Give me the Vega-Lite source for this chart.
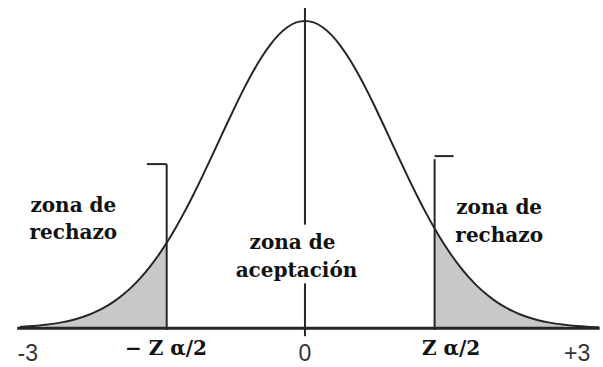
{
  "$schema": "https://vega.github.io/schema/vega-lite/v6.json",
  "width": 603,
  "height": 367,
  "padding": 0,
  "autosize": {"type": "fit", "contains": "padding"},
  "background": "white",
  "view": {"stroke": null},
  "datasets": {
    "curve": [
      {"z": -3.3, "d": 0.0043}, {"z": -3.2, "d": 0.0060}, {"z": -3.1, "d": 0.0082},
      {"z": -3.0, "d": 0.0111}, {"z": -2.9, "d": 0.0149}, {"z": -2.8, "d": 0.0198}, {"z": -2.7, "d": 0.0261},
      {"z": -2.6, "d": 0.0340}, {"z": -2.5, "d": 0.0439}, {"z": -2.4, "d": 0.0561}, {"z": -2.3, "d": 0.0710},
      {"z": -2.2, "d": 0.0889}, {"z": -2.1, "d": 0.1103}, {"z": -2.0, "d": 0.1353}, {"z": -1.9, "d": 0.1645},
      {"z": -1.8, "d": 0.1979}, {"z": -1.7, "d": 0.2357}, {"z": -1.6, "d": 0.2780}, {"z": -1.5, "d": 0.3247},
      {"z": -1.4, "d": 0.3753}, {"z": -1.3, "d": 0.4296}, {"z": -1.2, "d": 0.4868}, {"z": -1.1, "d": 0.5461},
      {"z": -1.0, "d": 0.6065}, {"z": -0.9, "d": 0.6670}, {"z": -0.8, "d": 0.7261}, {"z": -0.7, "d": 0.7827},
      {"z": -0.6, "d": 0.8353}, {"z": -0.5, "d": 0.8825}, {"z": -0.4, "d": 0.9231}, {"z": -0.3, "d": 0.9560},
      {"z": -0.2, "d": 0.9802}, {"z": -0.1, "d": 0.9950}, {"z": 0.0, "d": 1.0},
      {"z": 0.1, "d": 0.9950}, {"z": 0.2, "d": 0.9802}, {"z": 0.3, "d": 0.9560}, {"z": 0.4, "d": 0.9231},
      {"z": 0.5, "d": 0.8825}, {"z": 0.6, "d": 0.8353}, {"z": 0.7, "d": 0.7827}, {"z": 0.8, "d": 0.7261},
      {"z": 0.9, "d": 0.6670}, {"z": 1.0, "d": 0.6065}, {"z": 1.1, "d": 0.5461}, {"z": 1.2, "d": 0.4868},
      {"z": 1.3, "d": 0.4296}, {"z": 1.4, "d": 0.3753}, {"z": 1.5, "d": 0.3247}, {"z": 1.6, "d": 0.2780},
      {"z": 1.7, "d": 0.2357}, {"z": 1.8, "d": 0.1979}, {"z": 1.9, "d": 0.1645}, {"z": 2.0, "d": 0.1353},
      {"z": 2.1, "d": 0.1103}, {"z": 2.2, "d": 0.0889}, {"z": 2.3, "d": 0.0710}, {"z": 2.4, "d": 0.0561},
      {"z": 2.5, "d": 0.0439}, {"z": 2.6, "d": 0.0340}, {"z": 2.7, "d": 0.0261}, {"z": 2.8, "d": 0.0198},
      {"z": 2.9, "d": 0.0149}, {"z": 3.0, "d": 0.0111}, {"z": 3.1, "d": 0.0082}, {"z": 3.2, "d": 0.0060},
      {"z": 3.3, "d": 0.0043}, {"z": 3.4, "d": 0.0031}
    ],
    "segments": [
      {"x": -3.33, "x2": 3.41, "y": 0, "y2": 0, "w": 3},
      {"x": 0, "x2": 0, "y": 1.042, "y2": 0.337, "w": 2},
      {"x": 0, "x2": 0, "y": 0.146, "y2": -0.026, "w": 2},
      {"x": -1.6, "x2": -1.6, "y": 0.534, "y2": -0.006, "w": 2},
      {"x": -1.6, "x2": -1.83, "y": 0.534, "y2": 0.534, "w": 2},
      {"x": 1.5, "x2": 1.5, "y": 0.55, "y2": -0.006, "w": 2},
      {"x": 1.5, "x2": 1.72, "y": 0.56, "y2": 0.56, "w": 2}
    ],
    "zones": [
      {"text": "zona de", "x": -2.68, "y": 0.379},
      {"text": "rechazo", "x": -2.68, "y": 0.291},
      {"text": "zona de", "x": -0.144, "y": 0.259},
      {"text": "aceptación", "x": -0.098, "y": 0.168},
      {"text": "zona de", "x": 2.247, "y": 0.372},
      {"text": "rechazo", "x": 2.247, "y": 0.282}
    ],
    "critical": [
      {"text": "− Z α/2", "x": -1.609, "y": -0.087},
      {"text": "Z α/2", "x": 1.69, "y": -0.087}
    ],
    "ends": [
      {"text": "-3", "x": -3.207, "y": -0.108},
      {"text": "0", "x": 0, "y": -0.108},
      {"text": "+3", "x": 3.149, "y": -0.108}
    ]
  },
  "layer": [
    {
      "data": {"name": "curve"},
      "transform": [{"filter": "datum.z >= -3 && datum.z <= -1.6"}],
      "mark": {"type": "area", "color": "#c8c8c8", "interpolate": "monotone"},
      "encoding": {
        "x": {"field": "z", "type": "quantitative", "scale": {"domain": [-3.5287, 3.4023], "nice": false, "zero": false}, "axis": null},
        "y": {"field": "d", "type": "quantitative", "scale": {"domain": [-0.11974, 1.06796], "nice": false, "zero": false}, "axis": null},
        "y2": {"datum": 0}
      }
    },
    {
      "data": {"name": "curve"},
      "transform": [{"filter": "datum.z >= 1.5 && datum.z <= 3"}],
      "mark": {"type": "area", "color": "#c8c8c8", "interpolate": "monotone"},
      "encoding": {
        "x": {"field": "z", "type": "quantitative"},
        "y": {"field": "d", "type": "quantitative"},
        "y2": {"datum": 0}
      }
    },
    {
      "data": {"name": "segments"},
      "mark": {"type": "rule", "color": "#262626"},
      "encoding": {
        "x": {"field": "x", "type": "quantitative"},
        "x2": {"field": "x2"},
        "y": {"field": "y", "type": "quantitative"},
        "y2": {"field": "y2"},
        "strokeWidth": {"field": "w", "type": "quantitative", "scale": null}
      }
    },
    {
      "data": {"name": "curve"},
      "mark": {"type": "line", "color": "#262626", "strokeWidth": 2, "interpolate": "monotone"},
      "encoding": {
        "x": {"field": "z", "type": "quantitative"},
        "y": {"field": "d", "type": "quantitative"}
      }
    },
    {
      "data": {"name": "zones"},
      "mark": {"type": "text", "font": "DejaVu Serif", "fontWeight": "bold", "fontSize": 20, "color": "#111", "align": "center", "baseline": "alphabetic"},
      "encoding": {
        "x": {"field": "x", "type": "quantitative"},
        "y": {"field": "y", "type": "quantitative"},
        "text": {"field": "text"}
      }
    },
    {
      "data": {"name": "critical"},
      "mark": {"type": "text", "font": "DejaVu Serif", "fontWeight": "bold", "fontSize": 20, "color": "#111", "align": "center", "baseline": "alphabetic"},
      "encoding": {
        "x": {"field": "x", "type": "quantitative"},
        "y": {"field": "y", "type": "quantitative"},
        "text": {"field": "text"}
      }
    },
    {
      "data": {"name": "ends"},
      "mark": {"type": "text", "font": "Liberation Sans", "fontSize": 23, "color": "#333", "align": "center", "baseline": "alphabetic"},
      "encoding": {
        "x": {"field": "x", "type": "quantitative"},
        "y": {"field": "y", "type": "quantitative"},
        "text": {"field": "text"}
      }
    }
  ]
}
